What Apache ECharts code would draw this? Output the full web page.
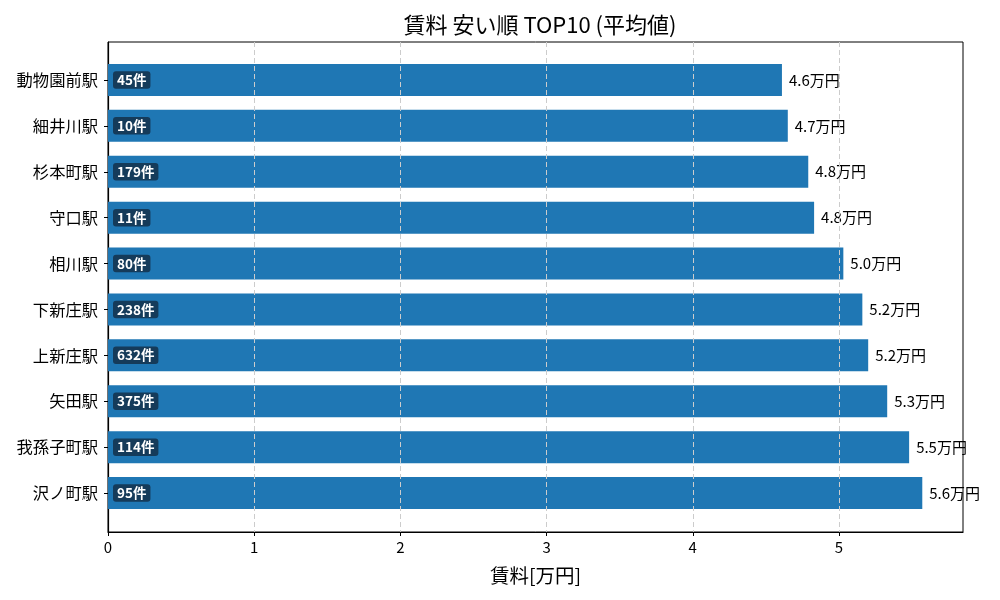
<!DOCTYPE html>
<html>
<head>
<meta charset="utf-8">
<script src="https://cdn.jsdelivr.net/npm/echarts@6/dist/echarts.min.js"></script>
<style>
  html, body { margin: 0; padding: 0; background: #fff; }
  #chart { width: 1000px; height: 600px; }
</style>
</head>
<body>
<div id="chart"></div>
<script>
// 駅名 (上から順に)
var stations = ['動物園前駅', '細井川駅', '杉本町駅', '守口駅', '相川駅', '下新庄駅', '上新庄駅', '矢田駅', '我孫子町駅', '沢ノ町駅'];
// 平均賃料 [万円]
var rents = [4.61, 4.65, 4.79, 4.83, 5.03, 5.16, 5.20, 5.33, 5.48, 5.57];
// 件数
var counts = [45, 10, 179, 11, 80, 238, 632, 375, 114, 95];
var xTicks = [0, 1, 2, 3, 4, 5];

var font = '"Noto Sans CJK JP", "Noto Sans", sans-serif';
var xMax = Math.max.apply(null, rents) * 1.05;

var chart = echarts.init(document.getElementById('chart'));

var option = {
    animation: false,
    title: {
        text: '賃料 安い順 TOP10 (平均値)',
        left: 535,
        textAlign: 'center',
        top: 9,
        textStyle: { fontFamily: font, fontSize: 22, fontWeight: 'normal', color: '#000' }
    },
    grid: [
        // 枠と x 軸
        { left: 108, right: 37, top: 42, bottom: 68, show: true, borderColor: '#000', borderWidth: 1, backgroundColor: 'transparent' },
        // 棒
        { left: 108, right: 37, top: 57, bottom: 84 }
    ],
    xAxis: [{
        gridIndex: 0,
        type: 'value',
        min: 0,
        max: xMax,
        interval: 1,
        z: 5,
        name: '賃料[万円]',
        nameLocation: 'middle',
        nameGap: 34,
        nameTextStyle: { fontFamily: font, fontSize: 19.5, color: '#000' },
        axisLine: { show: true, lineStyle: { color: '#000', width: 1.2 } },
        axisTick: { show: true, length: 4, lineStyle: { color: '#000' } },
        axisLabel: {
            fontFamily: font, fontSize: 15, color: '#000', margin: 8,
            showMaxLabel: false,
            formatter: function (v) { return xTicks.indexOf(v) >= 0 ? String(v) : ''; }
        },
        splitLine: { show: true, showMinLine: false, showMaxLine: false, lineStyle: { color: '#cccccc', type: [5, 3], width: 1 } }
    }, {
        gridIndex: 1,
        type: 'value',
        min: 0,
        max: xMax,
        show: false
    }],
    yAxis: [{
        gridIndex: 0,
        type: 'value',
        min: 0,
        max: 1,
        show: true,
        axisLine: { show: true, lineStyle: { color: '#000', width: 1.2 } },
        axisTick: { show: false },
        axisLabel: { show: false },
        splitLine: { show: false }
    }, {
        gridIndex: 1,
        type: 'category',
        inverse: true,
        data: stations,
        axisLine: { show: false },
        axisTick: { show: true, length: 4, alignWithLabel: true, lineStyle: { color: '#000' } },
        axisLabel: { fontFamily: font, fontSize: 16.3, color: '#000', margin: 10 },
        splitLine: { show: false }
    }],
    series: [{
        type: 'bar',
        xAxisIndex: 1,
        yAxisIndex: 1,
        data: rents,
        barWidth: 32,
        itemStyle: { color: '#1f77b4' },
        label: {
            show: true,
            position: 'insideLeft',
            distance: 5,
            formatter: function (p) { return counts[p.dataIndex] + '件'; },
            fontFamily: font,
            fontSize: 13.5,
            fontWeight: 'bold',
            color: '#fff',
            backgroundColor: '#153b5a',
            borderRadius: 3,
            padding: [2, 4, 2, 4]
        }
    }, {
        type: 'bar',
        xAxisIndex: 1,
        yAxisIndex: 1,
        data: rents,
        barWidth: 32,
        barGap: '-100%',
        itemStyle: { color: 'transparent' },
        label: {
            show: true,
            position: 'right',
            distance: 7,
            formatter: function (p) { return p.value.toFixed(1) + '万円'; },
            fontFamily: font,
            fontSize: 15,
            color: '#000'
        }
    }]
};

chart.setOption(option);
</script>
</body>
</html>
